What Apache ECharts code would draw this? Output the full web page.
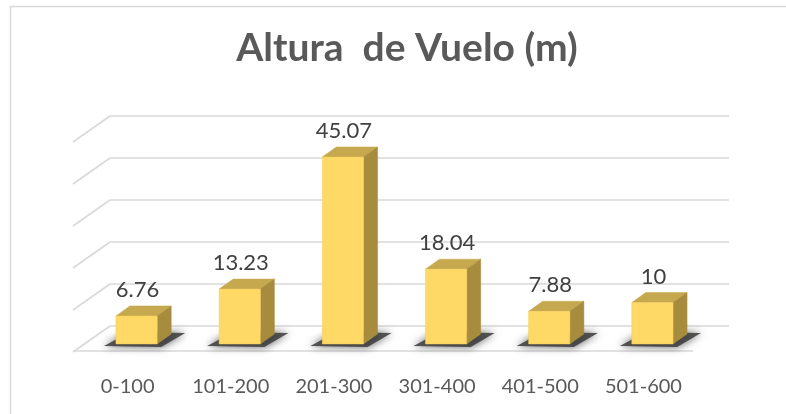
<!DOCTYPE html>
<html>
<head>
<meta charset="utf-8">
<script src="https://cdn.jsdelivr.net/npm/echarts@6/dist/echarts.min.js"></script>
<style>html,body{margin:0;padding:0;background:#fff}#c{width:786px;height:414px}</style>
</head>
<body>
<div id="c"></div>
<script>
var categories = ['0-100', '101-200', '201-300', '301-400', '401-500', '501-600'];
var values = [6.76, 13.23, 45.07, 18.04, 7.88, 10];
var yTicks = [0, 10, 20, 30, 40, 50];
var titleText = 'Altura  de Vuelo (m)';

var chart = echarts.init(document.getElementById('c'), null, {renderer: 'canvas'});

var DEPTH_X = 14, DEPTH_Y = -10;
var GRID_COLOR = '#d9d9d9';

function wallRender(params, api) {
  var v = api.value(0);
  var band = api.size([1, 0])[0];
  var p0 = api.coord([0, 0]);
  var L = p0[0] - band / 2;
  var R = L + band * categories.length;
  var y0 = p0[1];
  var yv = api.coord([0, v])[1];
  var yb = y0 - 18 + (yv - y0) * 1.012;
  var children = [
    {type: 'line', shape: {x1: L + 25, y1: yb, x2: R + 25, y2: yb}, style: {stroke: GRID_COLOR, lineWidth: 1.6}},
    {type: 'line', shape: {x1: L + 25, y1: yb, x2: L - 12, y2: yb + 26}, style: {stroke: GRID_COLOR, lineWidth: 1.6}}
  ];
  if (v === 0) {
    children.push({type: 'line', shape: {x1: L - 12, y1: y0 + 7, x2: R - 11, y2: y0 + 7}, style: {stroke: GRID_COLOR, lineWidth: 1.6}});
  }
  return {type: 'group', children: children};
}

function barRender(params, api) {
  var idx = api.value(0);
  var val = api.value(1);
  var band = api.size([1, 0])[0];
  var top = api.coord([idx, val]);
  var base = api.coord([idx, 0]);
  var w = band * 0.4;
  var x0 = top[0] - w / 2, x1 = top[0] + w / 2;
  var yt = top[1], y0 = base[1];
  var dx = DEPTH_X, dy = DEPTH_Y;
  return {
    type: 'group',
    children: [
      {type: 'polygon', shape: {points: [[x0 - 12, y0 + 2], [x1 + 4, y0 + 3], [x1 + dx + 14, y0 + dy - 1], [x0 + dx, y0 + dy - 2]]},
        style: {fill: 'rgba(60,60,60,0.85)', shadowBlur: 9, shadowColor: 'rgba(0,0,0,0.75)'}},
      {type: 'polygon', shape: {points: [[x0, yt], [x1, yt], [x1 + dx, yt + dy], [x0 + dx, yt + dy]]},
        style: {fill: '#c6a84e', stroke: '#c6a84e', lineWidth: 0.5}},
      {type: 'polygon', shape: {points: [[x1, yt], [x1 + dx, yt + dy], [x1 + dx, y0 + dy], [x1, y0]]},
        style: {fill: '#a78c3e', stroke: '#a78c3e', lineWidth: 0.5}},
      {type: 'rect', shape: {x: x0, y: yt, width: w, height: y0 - yt},
        style: {fill: '#ffd966', stroke: '#f2cc5c', lineWidth: 0.5}},
      {type: 'text', x: top[0] + 1, y: yt - 26,
        style: {text: String(val), fill: '#404040', font: '22px Lato', align: 'center', verticalAlign: 'middle'}}
    ]
  };
}

var barData = values.map(function (v, i) { return [i, v]; });
var wallData = yTicks.map(function (v) { return [v]; });

chart.setOption({
  animation: false,
  backgroundColor: '#ffffff',
  title: {
    text: titleText,
    left: 402,
    top: 24,
    textAlign: 'center',
    textStyle: {fontFamily: 'Lato', fontWeight: 'bold', fontSize: 39, color: '#595959'}
  },
  graphic: [
    {type: 'rect', left: 8, top: 4, shape: {width: 820, height: 440}, style: {fill: 'none', stroke: '#d9d9d9', lineWidth: 1.5}, silent: true, z: -10}
  ],
  grid: {left: 85, right: 82, top: 136.5, bottom: 70},
  xAxis: {
    type: 'category',
    data: categories,
    axisLine: {show: false},
    axisTick: {show: false},
    splitLine: {show: false},
    axisLabel: {
      margin: 33,
      padding: [0, 18, 0, 0],
      fontFamily: 'Lato',
      fontSize: 20,
      color: '#595959',
      interval: 0
    }
  },
  yAxis: {
    type: 'value',
    min: 0,
    max: 50,
    interval: 10,
    show: false
  },
  series: [
    {type: 'custom', renderItem: wallRender, data: wallData, coordinateSystem: 'cartesian2d', encode: {y: 0}, z: 1, silent: true},
    {type: 'custom', renderItem: barRender, data: barData, encode: {x: 0, y: 1}, z: 2, silent: true}
  ]
});
</script>
</body>
</html>
